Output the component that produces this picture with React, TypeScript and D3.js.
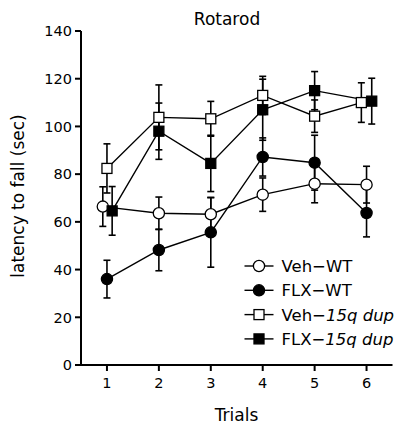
import React from 'react';
import * as d3 from 'd3';

// values (mean, error = SEM)
const trials = [1, 2, 3, 4, 5, 6];
const yTicks = [0, 20, 40, 60, 80, 100, 120, 140];

const vehWT = [66.4, 63.6, 63.2, 71.4, 76.0, 75.6];
const vehWTErr = [8.3, 6.8, 7.0, 7.0, 8.0, 7.7];
const flxWT = [36.0, 48.2, 55.6, 87.2, 84.8, 63.7];
const flxWTErr = [7.9, 8.7, 14.6, 8.0, 11.5, 10.0];
const vehDup = [82.4, 103.8, 103.2, 113.0, 104.3, 110.0];
const vehDupErr = [10.3, 13.6, 7.3, 8.0, 6.8, 8.3];
const flxDup = [64.6, 98.0, 84.5, 107.0, 115.0, 110.6];
const flxDupErr = [10.2, 11.8, 11.8, 12.8, 8.0, 9.6];

// small horizontal nudges (in trial units) so overlapping groups stay visible
const vehWTNudge = [-0.08, 0, 0, 0, 0, 0];
const flxWTNudge = [0, 0, 0, 0, 0, 0];
const vehDupNudge = [0, 0, 0, 0, 0, -0.1];
const flxDupNudge = [0.1, 0, 0, 0, 0, 0.1];

const series = [
  { name: 'Veh\u2212WT', base: 'Veh\u2212', tag: 'WT', italic: false, shape: 'circle', fill: '#fff', values: vehWT, err: vehWTErr, nudge: vehWTNudge },
  { name: 'FLX\u2212WT', base: 'FLX\u2212', tag: 'WT', italic: false, shape: 'circle', fill: '#000', values: flxWT, err: flxWTErr, nudge: flxWTNudge },
  { name: 'Veh\u221215q dup', base: 'Veh\u2212', tag: '15q dup', italic: true, shape: 'square', fill: '#fff', values: vehDup, err: vehDupErr, nudge: vehDupNudge },
  { name: 'FLX\u221215q dup', base: 'FLX\u2212', tag: '15q dup', italic: true, shape: 'square', fill: '#000', values: flxDup, err: flxDupErr, nudge: flxDupNudge },
];

const FONT = '"DejaVu Sans", sans-serif';

const Marker = ({ shape, fill, x, y }: { shape: string; fill: string; x: number; y: number }) =>
  shape === 'circle' ? (
    <circle cx={x} cy={y} r={5.6} fill={fill} stroke="#000" strokeWidth={1.3} />
  ) : (
    <rect x={x - 5} y={y - 5} width={10} height={10} fill={fill} stroke="#000" strokeWidth={1.3} />
  );

const App = () => {
  const W = 398;
  const H = 425;

  const x = d3.scaleLinear().domain([0.5, 6.5]).range([81, 392.5]);
  const y = d3.scaleLinear().domain([0, 140]).range([365, 31]);

  const line = d3.line<number>()
    .x((d, i) => x(trials[i]))
    .y(d => y(d));

  return (
    <svg width={W} height={H} style={{ position: 'absolute', left: 0, top: 0, background: '#fff' }} fontFamily={FONT}>
      {/* title */}
      <text x={227} y={25} textAnchor="middle" fontSize={17}>Rotarod</text>

      {/* y axis */}
      <line x1={x(0.5)} x2={x(0.5)} y1={y(140)} y2={y(0)} stroke="#000" strokeWidth={2} />
      {yTicks.map(t => (
        <g key={t}>
          <line x1={x(0.5) - 6} x2={x(0.5)} y1={y(t)} y2={y(t)} stroke="#000" strokeWidth={2} />
          <text x={x(0.5) - 9} y={y(t)} dy="0.36em" textAnchor="end" fontSize={14.5}>{t}</text>
        </g>
      ))}
      <text transform={`translate(24,196) rotate(-90)`} textAnchor="middle" fontSize={17}>latency to fall (sec)</text>

      {/* x axis */}
      <line x1={x(0.5)} x2={x(6.5)} y1={y(0)} y2={y(0)} stroke="#000" strokeWidth={2} />
      {trials.map(t => (
        <g key={t}>
          <line x1={x(t)} x2={x(t)} y1={y(0)} y2={y(0) + 6} stroke="#000" strokeWidth={2} />
          <text x={x(t)} y={388} textAnchor="middle" fontSize={14.5}>{t}</text>
        </g>
      ))}
      <text x={236.5} y={421} textAnchor="middle" fontSize={17}>Trials</text>

      {/* lines */}
      {series.map(s => (
        <path
          key={s.name + '-line'}
          d={d3.line<number>().x((d, i) => x(trials[i] + s.nudge[i])).y(d => y(d))(s.values) || ''}
          fill="none"
          stroke="#000"
          strokeWidth={1.4}
        />
      ))}

      {/* error bars */}
      {series.map(s =>
        s.values.map((v, i) => {
          const cx = x(trials[i] + s.nudge[i]);
          const top = y(v + s.err[i]);
          const bot = y(v - s.err[i]);
          return (
            <g key={s.name + '-err-' + i} stroke="#000" strokeWidth={1.6}>
              <line x1={cx} x2={cx} y1={top} y2={bot} />
              <line x1={cx - 3.5} x2={cx + 3.5} y1={top} y2={top} />
              <line x1={cx - 3.5} x2={cx + 3.5} y1={bot} y2={bot} />
            </g>
          );
        })
      )}

      {/* markers */}
      {series.map(s =>
        s.values.map((v, i) => (
          <Marker key={s.name + '-m-' + i} shape={s.shape} fill={s.fill} x={x(trials[i] + s.nudge[i])} y={y(v)} />
        ))
      )}

      {/* legend */}
      {series.map((s, i) => {
        const ly = 266 + i * 24.3;
        return (
          <g key={s.name + '-leg'}>
            <line x1={244.5} x2={273.5} y1={ly} y2={ly} stroke="#000" strokeWidth={1.4} />
            <Marker shape={s.shape} fill={s.fill} x={259} y={ly} />
            <text x={281.5} y={ly + 6} fontSize={16.5}>
              {s.base}
              <tspan fontStyle={s.italic ? 'italic' : 'normal'}>{s.tag}</tspan>
            </text>
          </g>
        );
      })}
    </svg>
  );
};

export default App;
